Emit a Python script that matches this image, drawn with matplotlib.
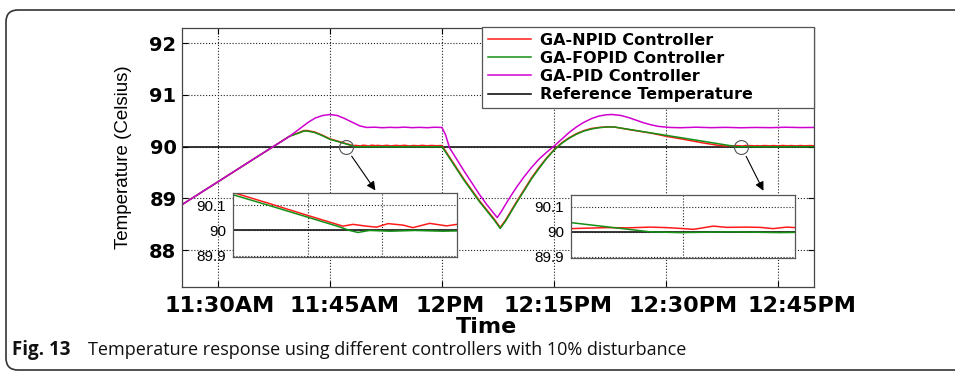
import numpy as np
import matplotlib
matplotlib.use('Agg')

import matplotlib.pyplot as plt
from matplotlib.patches import FancyBboxPatch
from matplotlib.transforms import IdentityTransform, blended_transform_factory


# time axis in minutes after 11:00
tick_minutes = [30, 45, 60, 75, 90, 105]
tick_labels = ['11:30AM', '11:45AM', '12PM', '12:15PM', '12:30PM', '12:45PM']
label_shift = [0.3, 1.9, 1.1, 0.5, 2.3, 3.2]

ref_temp = 90.0

t_pid = [25.2, 30, 35, 39.6, 41, 42, 43, 44, 45, 46, 47, 48, 49, 49.9, 51, 52,
         53, 54, 55, 56, 57, 58, 59, 60, 60.5, 61, 62, 63, 64, 65, 66, 67, 67.4,
         68, 69, 70, 71, 72, 73, 74, 75, 76, 77, 78, 79, 80, 81, 82, 82.8, 84,
         85, 86, 87, 88, 89, 90.5, 92, 94, 96, 98, 100, 102, 104, 106, 108, 109.8]
pid = [88.88, 89.32, 89.78, 90.2, 90.35, 90.46, 90.55, 90.6, 90.62, 90.6, 90.54,
       90.47, 90.4, 90.37, 90.375, 90.365, 90.372, 90.368, 90.376, 90.366, 90.372,
       90.365, 90.374, 90.37, 90.22, 89.98, 89.75, 89.52, 89.3, 89.08, 88.88, 88.7,
       88.63, 88.76, 89.0, 89.22, 89.42, 89.6, 89.76, 89.89, 90.01, 90.14, 90.27,
       90.38, 90.47, 90.54, 90.59, 90.615, 90.62, 90.6, 90.56, 90.51, 90.46, 90.42,
       90.39, 90.37, 90.365, 90.375, 90.366, 90.372, 90.364, 90.37, 90.366, 90.374,
       90.368, 90.37]

t_npid = [25.2, 30, 35, 39.6, 41, 41.5, 42, 43, 44, 45, 46, 47, 48.14, 48.43, 48.81,
          49.1, 49.43, 49.86, 50.14, 50.62, 51.1, 51.4, 52, 52.6, 53.2, 53.8, 54.4,
          55, 55.6, 56.2, 56.8, 57.4, 58, 58.6, 59.2, 60, 61, 62, 63, 64, 65, 66,
          67, 67.8, 68.5, 69, 70, 71, 72, 73, 74, 75, 76, 77, 78, 79, 80, 81, 82,
          83, 85, 88, 90, 92, 95, 97, 97.8, 98.52, 98.92, 99.39, 99.72, 100.06,
          100.26, 100.66, 100.93, 101.33, 101.6, 101.86, 102.13, 102.6, 103.2,
          103.8, 104.4, 105, 105.6, 106.2, 106.8, 107.4, 108, 108.6, 109.2, 109.8]
npid = [88.88, 89.32, 89.78, 90.2, 90.28, 90.31, 90.31, 90.28, 90.22, 90.15,
        90.108, 90.065, 90.017, 90.024, 90.017, 90.013, 90.027, 90.021, 90.011,
        90.028, 90.018, 90.024, 90.016, 90.025, 90.014, 90.024, 90.017, 90.026,
        90.013, 90.022, 90.016, 90.025, 90.015, 90.023, 90.017, 90.02, 89.8, 89.58,
        89.36, 89.16, 88.96, 88.78, 88.6, 88.44, 88.58, 88.7, 88.94, 89.17, 89.4,
        89.6, 89.78, 89.94, 90.07, 90.17, 90.25, 90.31, 90.35, 90.37, 90.38, 90.38,
        90.33, 90.26, 90.2, 90.15, 90.07, 90.025, 90.013, 90.017, 90.016, 90.019,
        90.017, 90.013, 90.010, 90.023, 90.018, 90.019, 90.018, 90.013, 90.019,
        90.014, 90.021, 90.015, 90.02, 90.013, 90.022, 90.016, 90.02, 90.014,
        90.021, 90.015, 90.02, 90.017]

t_fopid = [25.2, 30, 35, 39.6, 41, 41.5, 42, 43, 44, 45, 46, 47, 48, 48.33, 48.57,
           48.9, 49.5, 50.2, 51, 52, 54, 56, 58, 60, 61, 62, 63, 64, 65, 66, 67,
           67.8, 68.5, 69, 70, 71, 72, 73, 74, 75, 76, 77, 78, 79, 80, 81, 82, 83,
           85, 88, 90, 92, 95, 97.8, 99.39, 100, 101, 102, 103, 105, 107, 109.8]
fopid = [88.88, 89.32, 89.78, 90.2, 90.27, 90.3, 90.3, 90.27, 90.21, 90.141, 90.1,
         90.058, 90.016, 90.0, 89.992, 90.0, 89.997, 90.0, 89.997, 90.0, 89.997,
         90.0, 89.997, 90.0, 89.78, 89.56, 89.34, 89.14, 88.94, 88.76, 88.58, 88.42,
         88.56, 88.68, 88.92, 89.15, 89.38, 89.58, 89.77, 89.93, 90.06, 90.16,
         90.24, 90.3, 90.34, 90.365, 90.378, 90.38, 90.334, 90.264, 90.218, 90.172,
         90.102, 90.037, 90.0, 89.997, 90.0, 89.997, 90.0, 89.997, 90.0, 89.998]

names = ['GA-NPID Controller', 'GA-FOPID Controller', 'GA-PID Controller',
         'Reference Temperature']
colors = ['#ff1a1a', '#159015', '#d000d0', 'black']


def draw_lines(ax, lw):
    ax.plot(t_npid, npid, color=colors[0], lw=lw, label=names[0])
    ax.plot(t_fopid, fopid, color=colors[1], lw=lw, label=names[1])
    ax.plot(t_pid, pid, color=colors[2], lw=lw, label=names[2])
    ax.axhline(ref_temp, color=colors[3], lw=lw, label=names[3], zorder=1.5)


W, H = 955, 372
fig = plt.figure(figsize=(W / 100, H / 100), dpi=100)

# outer frame of the figure panel
frame = FancyBboxPatch((6, 2), 990, 360, boxstyle='round,pad=0,rounding_size=12',
                       transform=IdentityTransform(), fill=False,
                       edgecolor='#333333', lw=1.2)
fig.patches.append(frame)

ax = fig.add_axes([182 / W, 85 / H, 632 / W, 259 / H])
draw_lines(ax, 1.1)
ax.set_xlim(25.2, 109.8)
ax.set_ylim(87.29, 92.29)
ax.set_yticks([88, 89, 90, 91, 92])
ax.set_yticklabels(['88', '89', '90', '91', '92'], fontfamily='DejaVu Sans',
                   fontweight='bold', fontsize=14)
ax.set_xticks(tick_minutes)
ax.set_xticklabels([''] * len(tick_minutes))
ax.tick_params(direction='in', length=4, width=0.8, top=True, right=True, pad=4)
ax.grid(True, linestyle=':', color='#222222', lw=0.8)
for s in ax.spines.values():
    s.set_color('#444444')
    s.set_linewidth(0.9)

trans = blended_transform_factory(ax.transData, ax.transAxes)
for m, lab, dx in zip(tick_minutes, tick_labels, label_shift):
    ax.text(m + dx, -0.035, lab, transform=trans, ha='center', va='top',
            fontfamily='DejaVu Sans', fontweight='bold', fontsize=16)

ax.set_ylabel('Temperature (Celsius)', fontfamily='Liberation Sans', fontsize=13.5)
ax.yaxis.set_label_coords(-0.079, 0.5)
fig.text(486 / W, 1 - 327 / H, 'Time', ha='center', va='center',
         fontfamily='DejaVu Sans', fontweight='bold', fontsize=16)

leg = ax.legend(loc='upper left', bbox_to_anchor=(0.4747, 0.7, 0.5253, 0.304),
                mode='expand', borderaxespad=0, borderpad=0.35, labelspacing=0.2,
                handlelength=2.7, handletextpad=0.55, fancybox=False,
                framealpha=1, edgecolor='#555555',
                prop={'family': 'DejaVu Sans', 'weight': 'bold', 'size': 11.5})
leg.get_frame().set_linewidth(0.9)
leg.set_zorder(5)

# zoom markers and arrows
ax.plot([47.1, 100.0], [90.0, 90.0], 'o', ms=10, mfc='none', mec='#555555',
        mew=0.8, zorder=4)
ax.annotate('', xy=(51.3, 89.11), xytext=(47.7, 89.86),
            arrowprops=dict(arrowstyle='-|>', color='black', lw=0.8,
                            mutation_scale=13))
ax.annotate('', xy=(103.2, 89.1), xytext=(100.55, 89.86),
            arrowprops=dict(arrowstyle='-|>', color='black', lw=0.8,
                            mutation_scale=13))

# insets
insets = [
    ([233 / W, 115 / H, 224 / W, 64 / H], (45, 51.4), [47.13, 49.27]),
    ([571 / W, 114 / H, 224 / W, 63 / H], (97.8, 102.3), [100.05]),
]
for rect, xl, vgrid in insets:
    ia = fig.add_axes(rect)
    draw_lines(ia, 1.1)
    ia.set_xlim(*xl)
    ia.set_ylim(89.895, 90.148)
    ia.set_xticks(vgrid)
    ia.set_xticklabels([])
    ia.set_yticks([89.9, 90, 90.1])
    ia.set_yticklabels(['89.9', '90', '90.1'], fontfamily='Liberation Sans',
                       fontsize=11)
    ia.tick_params(length=0, pad=5)
    ia.grid(True, linestyle=':', color='#222222', lw=0.8)
    for s in ia.spines.values():
        s.set_color('#555555')
        s.set_linewidth(0.9)

fig.text(12 / W, 1 - 350 / H, 'Fig. 13', ha='left', va='center',
         fontfamily='Open Sans', fontweight='bold', fontsize=13.5, color='#111111')
fig.text(88 / W, 1 - 350 / H,
         'Temperature response using different controllers with 10% disturbance',
         ha='left', va='center', fontfamily='Open Sans', fontsize=13,
         color='#111111')

fig.savefig('out.png', dpi=100)
